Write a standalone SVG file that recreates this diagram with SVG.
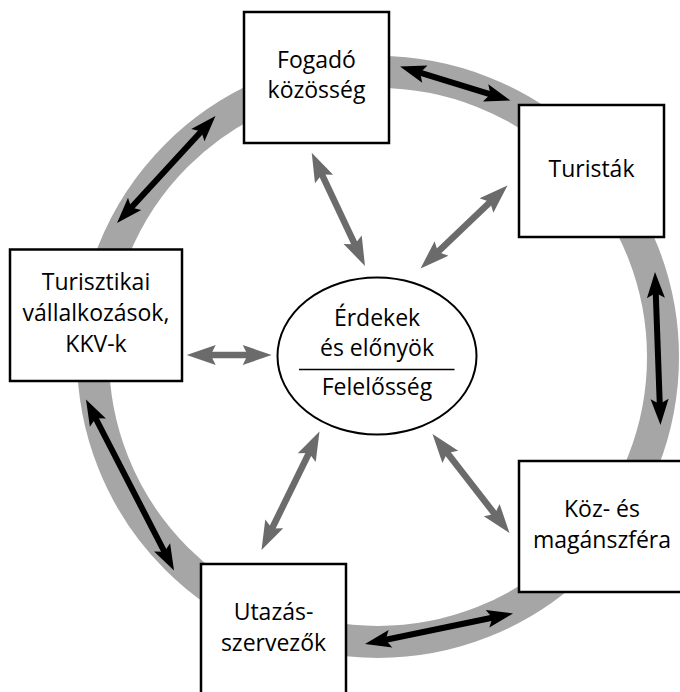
<svg xmlns="http://www.w3.org/2000/svg" width="680" height="692" viewBox="0 0 680 692">
<style>
.box{fill:#fff;stroke:#000;stroke-width:2.5}
.t{font-family:"Open Sans","Noto Sans",sans-serif;font-size:23px;fill:#000;text-anchor:middle}
.ab{stroke:#000;stroke-width:6;fill:none;marker-start:url(#hb);marker-end:url(#hb)}
.ag{stroke:#6b6b6b;stroke-width:6.5;fill:none;marker-start:url(#hg);marker-end:url(#hg)}
</style>
<defs>
<marker id="hb" markerUnits="userSpaceOnUse" markerWidth="32" markerHeight="22" viewBox="-30 -11 32 22" refX="-14" refY="0" orient="auto-start-reverse"><path d="M0,0 L-26,-9 L-21,0 L-26,9 Z" fill="#000"/></marker>
<marker id="hg" markerUnits="userSpaceOnUse" markerWidth="34" markerHeight="24" viewBox="-32 -12 34 24" refX="-15" refY="0" orient="auto-start-reverse"><path d="M0,0 L-29,-10 L-24,0 L-29,10 Z" fill="#6b6b6b"/></marker>
</defs>
<circle cx="378" cy="357" r="285" fill="none" stroke="#a6a6a6" stroke-width="32"/>
<g id="fogado"><rect class="box" x="244" y="12" width="145" height="131"/><text class="t" x="316.5" y="68">Fogadó</text><text class="t" x="316.5" y="98">közösség</text></g>
<g id="turistak"><rect class="box" x="519" y="105" width="145" height="132"/><text class="t" x="591.5" y="177">Turisták</text></g>
<g id="turisztikai"><rect class="box" x="10" y="249.5" width="172" height="131.5"/><text class="t" x="96" y="290">Turisztikai</text><text class="t" x="96" y="321">vállalkozások,</text><text class="t" x="96" y="352">KKV-k</text></g>
<g id="kozmagan"><rect class="box" x="519" y="461" width="168" height="131"/><text class="t" x="602" y="516.5">Köz- és</text><text class="t" x="602" y="547.5">magánszféra</text></g>
<g id="utazas"><rect class="box" x="201" y="564" width="145" height="140"/><text class="t" x="273.5" y="620">Utazás-</text><text class="t" x="273.5" y="651">szervezők</text></g>
<g id="center"><ellipse cx="377" cy="356" rx="99.5" ry="78.5" fill="#fff" stroke="#000" stroke-width="2"/><line x1="299" y1="369.5" x2="454.5" y2="369.5" stroke="#000" stroke-width="1.3"/><text class="t" x="377" y="326">Érdekek</text><text class="t" x="377" y="355.5">és előnyök</text><text class="t" x="377" y="395">Felelősség</text></g>
<g id="connectors">
<line class="ab" x1="413.4" y1="70.6" x2="497.1" y2="96.4"/>
<line class="ab" x1="655.5" y1="286" x2="660" y2="411"/>
<line class="ab" x1="499.3" y1="616.3" x2="378.7" y2="641.2"/>
<line class="ab" x1="92.4" y1="412" x2="167.6" y2="558"/>
<line class="ab" x1="126.5" y1="212.7" x2="206" y2="126.3"/>
<line class="ag" x1="318.1" y1="166.3" x2="358.6" y2="252.4"/>
<line class="ag" x1="496.6" y1="195.9" x2="431.4" y2="258.1"/>
<line class="ag" x1="201.7" y1="355" x2="256.7" y2="355"/>
<line class="ag" x1="312.9" y1="445" x2="268.1" y2="536.5"/>
<line class="ag" x1="441.7" y1="445.8" x2="500.3" y2="521.2"/>
</g>
</svg>
